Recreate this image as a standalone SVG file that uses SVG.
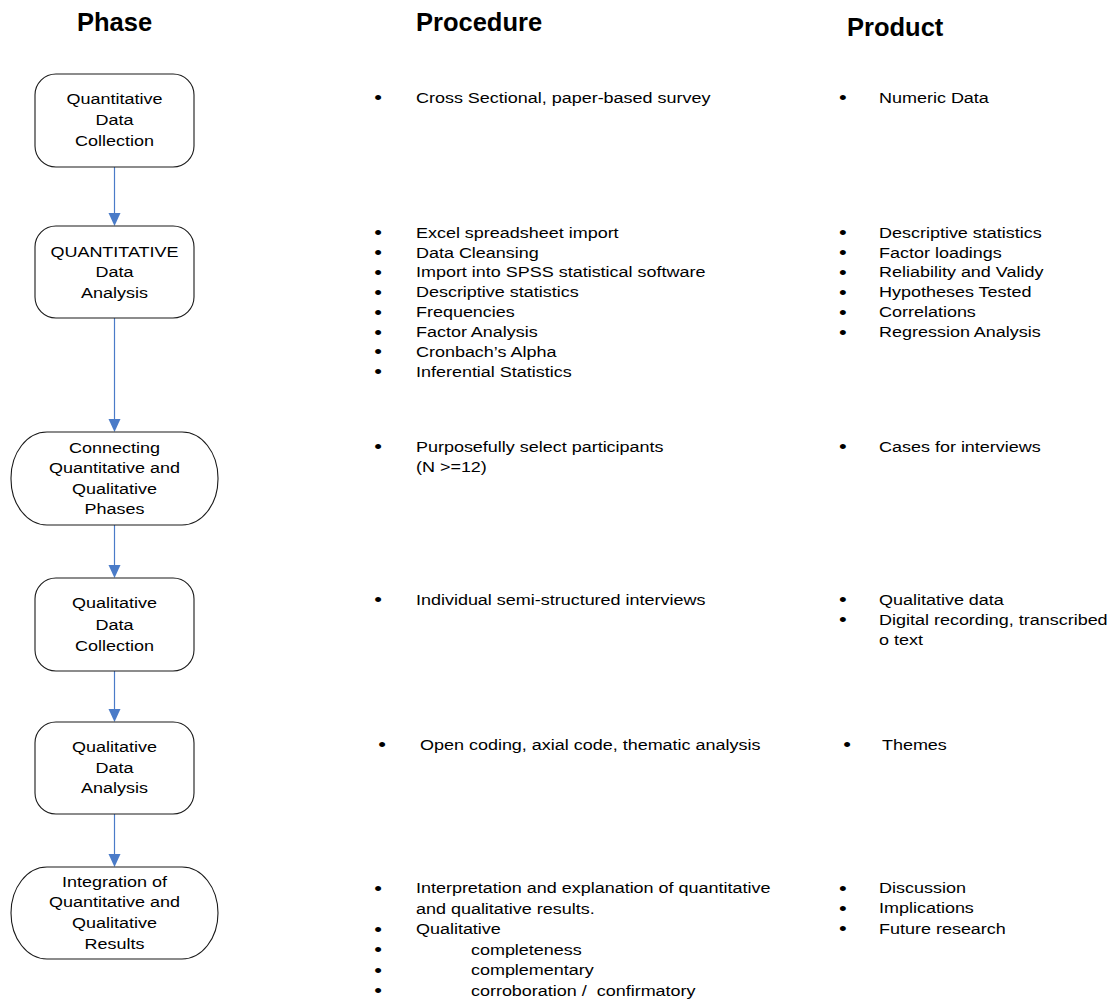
<svg xmlns="http://www.w3.org/2000/svg" width="1110" height="1003" viewBox="0 0 1110 1003">
<style>
.box{fill:#fff;stroke:#1a1a1a;stroke-width:1.1}
.hdr{font-family:"Liberation Sans",Arial,sans-serif;font-weight:bold;font-size:25.5px;fill:#000}
.t{font-family:"Liberation Sans",Arial,sans-serif;font-size:15.5px;fill:#000}
.c{text-anchor:middle}
.b{font-family:"Liberation Sans",Arial,sans-serif;font-size:19px;text-anchor:middle;fill:#000}
.pre{white-space:pre}
.conn{stroke:#4a7bc8;stroke-width:1.2;fill:none}
.head{fill:#4a7bc8}
</style>
<rect width="1110" height="1003" fill="#fff"/>
<g id="headers">
<text class="hdr" x="77" y="31">Phase</text>
<text class="hdr" x="416" y="31">Procedure</text>
<text class="hdr" x="847" y="36">Product</text>
</g>
<g id="connectors">
<line class="conn" x1="114.5" y1="167" x2="114.5" y2="213"/>
<path class="head" d="M108.5,213 L120.5,213 L114.5,226 Z"/>
<line class="conn" x1="114.5" y1="318" x2="114.5" y2="419"/>
<path class="head" d="M108.5,419 L120.5,419 L114.5,432 Z"/>
<line class="conn" x1="114.5" y1="525" x2="114.5" y2="565"/>
<path class="head" d="M108.5,565 L120.5,565 L114.5,578 Z"/>
<line class="conn" x1="114.5" y1="671" x2="114.5" y2="709"/>
<path class="head" d="M108.5,709 L120.5,709 L114.5,722 Z"/>
<line class="conn" x1="114.5" y1="814" x2="114.5" y2="854"/>
<path class="head" d="M108.5,854 L120.5,854 L114.5,867 Z"/>
</g>
<g id="node1">
<rect class="box" x="35" y="74" width="159" height="93" rx="21"/>
<g transform="scale(1.16,1)">
<text class="t c" x="98.7" y="104">Quantitative</text>
<text class="t c" x="98.7" y="125">Data</text>
<text class="t c" x="98.7" y="146">Collection</text>
</g>
</g>
<g id="node2">
<rect class="box" x="35" y="226" width="159" height="92" rx="21"/>
<g transform="scale(1.16,1)">
<text class="t c" x="98.7" y="257">QUANTITATIVE</text>
<text class="t c" x="98.7" y="277">Data</text>
<text class="t c" x="98.7" y="298">Analysis</text>
</g>
</g>
<g id="node3">
<rect class="box" x="11" y="432" width="207" height="93" rx="36" ry="46"/>
<g transform="scale(1.16,1)">
<text class="t c" x="98.7" y="453">Connecting</text>
<text class="t c" x="98.7" y="473">Quantitative and</text>
<text class="t c" x="98.7" y="494">Qualitative</text>
<text class="t c" x="98.7" y="514">Phases</text>
</g>
</g>
<g id="node4">
<rect class="box" x="35" y="578" width="159" height="93" rx="21"/>
<g transform="scale(1.16,1)">
<text class="t c" x="98.7" y="608">Qualitative</text>
<text class="t c" x="98.7" y="630">Data</text>
<text class="t c" x="98.7" y="651">Collection</text>
</g>
</g>
<g id="node5">
<rect class="box" x="35" y="722" width="159" height="92" rx="21"/>
<g transform="scale(1.16,1)">
<text class="t c" x="98.7" y="752">Qualitative</text>
<text class="t c" x="98.7" y="773">Data</text>
<text class="t c" x="98.7" y="793">Analysis</text>
</g>
</g>
<g id="node6">
<rect class="box" x="11" y="867" width="207" height="92" rx="36" ry="46"/>
<g transform="scale(1.16,1)">
<text class="t c" x="98.7" y="887">Integration of</text>
<text class="t c" x="98.7" y="907">Quantitative and</text>
<text class="t c" x="98.7" y="928">Qualitative</text>
<text class="t c" x="98.7" y="949">Results</text>
</g>
</g>
<g id="procedure" transform="scale(1.16,1)">
<text class="b" x="325.9" y="104.5">•</text><text class="t" x="358.6" y="103">Cross Sectional, paper-based survey</text>
<text class="b" x="325.9" y="239.5">•</text><text class="t" x="358.6" y="238">Excel spreadsheet import</text>
<text class="b" x="325.9" y="259.5">•</text><text class="t" x="358.6" y="258">Data Cleansing</text>
<text class="b" x="325.9" y="279">•</text><text class="t" x="358.6" y="277.5">Import into SPSS statistical software</text>
<text class="b" x="325.9" y="299">•</text><text class="t" x="358.6" y="297.5">Descriptive statistics</text>
<text class="b" x="325.9" y="319">•</text><text class="t" x="358.6" y="317.5">Frequencies</text>
<text class="b" x="325.9" y="339">•</text><text class="t" x="358.6" y="337.5">Factor Analysis</text>
<text class="b" x="325.9" y="358.5">•</text><text class="t" x="358.6" y="357">Cronbach’s Alpha</text>
<text class="b" x="325.9" y="378.5">•</text><text class="t" x="358.6" y="377">Inferential Statistics</text>
<text class="b" x="325.9" y="453.5">•</text><text class="t" x="358.6" y="452">Purposefully select participants</text>
<text class="t" x="358.6" y="472">(N &gt;=12)</text>
<text class="b" x="325.9" y="606.5">•</text><text class="t" x="358.6" y="605">Individual semi-structured interviews</text>
<text class="b" x="329.3" y="751.5">•</text><text class="t" x="362.1" y="750">Open coding, axial code, thematic analysis</text>
<text class="b" x="325.9" y="895">•</text><text class="t" x="358.6" y="893.5">Interpretation and explanation of quantitative</text>
<text class="t" x="358.6" y="914">and qualitative results.</text>
<text class="b" x="325.9" y="936">•</text><text class="t" x="358.6" y="934.5">Qualitative</text>
<text class="b" x="325.9" y="956.5">•</text><text class="t" x="406" y="955">completeness</text>
<text class="b" x="325.9" y="977">•</text><text class="t" x="406" y="975.5">complementary</text>
<text class="b" x="325.9" y="997.5">•</text><text class="t pre" x="406" y="996">corroboration /  confirmatory</text>
</g>
<g id="product" transform="scale(1.16,1)">
<text class="b" x="726.7" y="104.5">•</text><text class="t" x="757.8" y="103">Numeric Data</text>
<text class="b" x="726.7" y="239.5">•</text><text class="t" x="757.8" y="238">Descriptive statistics</text>
<text class="b" x="726.7" y="259.5">•</text><text class="t" x="757.8" y="258">Factor loadings</text>
<text class="b" x="726.7" y="279">•</text><text class="t" x="757.8" y="277.5">Reliability and Validy</text>
<text class="b" x="726.7" y="299">•</text><text class="t" x="757.8" y="297.5">Hypotheses Tested</text>
<text class="b" x="726.7" y="319">•</text><text class="t" x="757.8" y="317.5">Correlations</text>
<text class="b" x="726.7" y="339">•</text><text class="t" x="757.8" y="337.5">Regression Analysis</text>
<text class="b" x="726.7" y="453.5">•</text><text class="t" x="757.8" y="452">Cases for interviews</text>
<text class="b" x="726.7" y="606.5">•</text><text class="t" x="757.8" y="605">Qualitative data</text>
<text class="b" x="726.7" y="626.5">•</text><text class="t" x="757.8" y="625">Digital recording, transcribed</text>
<text class="t" x="757.8" y="645">o text</text>
<text class="b" x="730.2" y="751.5">•</text><text class="t" x="760.3" y="750">Themes</text>
<text class="b" x="726.7" y="895">•</text><text class="t" x="757.8" y="893.5">Discussion</text>
<text class="b" x="726.7" y="915">•</text><text class="t" x="757.8" y="913.5">Implications</text>
<text class="b" x="726.7" y="935.5">•</text><text class="t" x="757.8" y="934">Future research</text>
</g>
</svg>
